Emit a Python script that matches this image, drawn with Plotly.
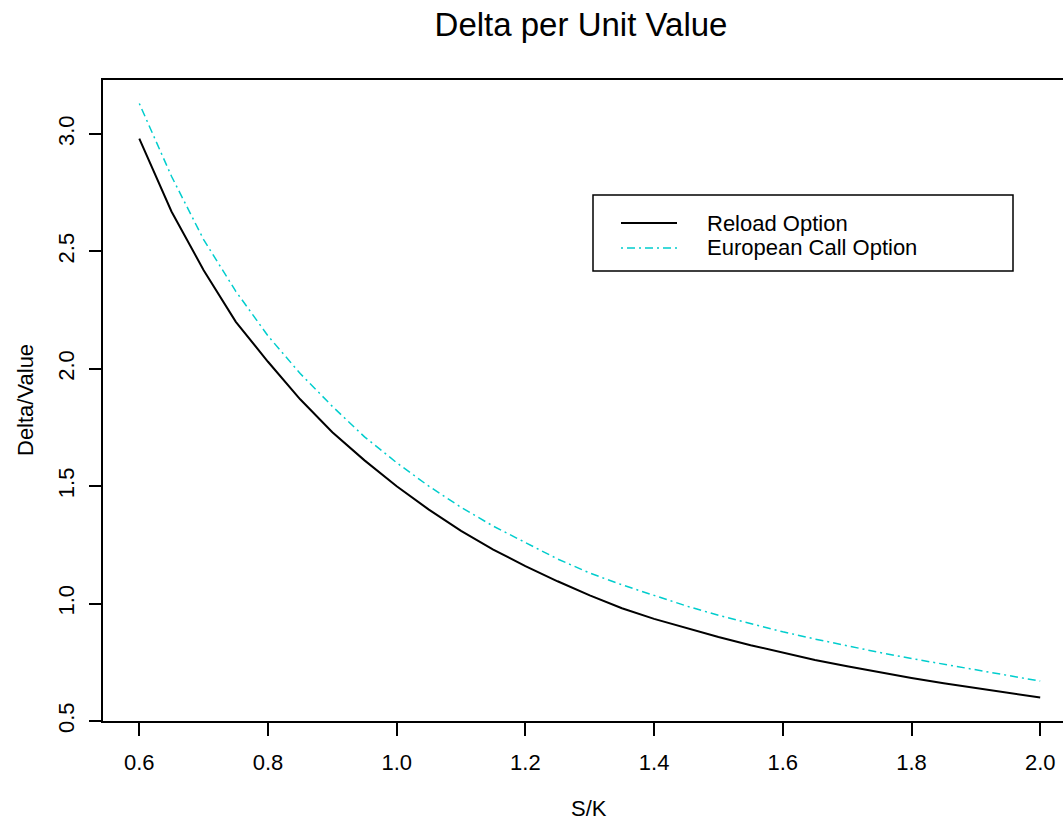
import plotly.graph_objects as go

# S/K grid and the two delta-per-unit-value curves
s_over_k = [0.60, 0.65, 0.70, 0.75, 0.80, 0.85, 0.90, 0.95, 1.00, 1.05,
            1.10, 1.15, 1.20, 1.25, 1.30, 1.35, 1.40, 1.45, 1.50, 1.55,
            1.60, 1.65, 1.70, 1.75, 1.80, 1.85, 1.90, 1.95, 2.00]
reload_option = [2.98, 2.67, 2.42, 2.20, 2.03, 1.87, 1.73, 1.61, 1.50, 1.40,
                 1.31, 1.23, 1.16, 1.095, 1.035, 0.98, 0.935, 0.895, 0.858, 0.823,
                 0.790, 0.760, 0.733, 0.707, 0.683, 0.661, 0.640, 0.620, 0.600]
european_call = [3.13, 2.82, 2.55, 2.33, 2.14, 1.98, 1.84, 1.71, 1.60, 1.50,
                 1.41, 1.33, 1.26, 1.19, 1.13, 1.08, 1.035, 0.99, 0.95, 0.914,
                 0.880, 0.849, 0.820, 0.792, 0.766, 0.741, 0.717, 0.694, 0.670]

x_ticks = [0.6, 0.8, 1.0, 1.2, 1.4, 1.6, 1.8, 2.0]
x_tick_text = ["0.6", "0.8", "1.0", "1.2", "1.4", "1.6", "1.8", "2.0"]
y_ticks = [0.5, 1.0, 1.5, 2.0, 2.5, 3.0]
y_tick_text = ["0.5", "1.0", "1.5", "2.0", "2.5", "3.0"]

series_names = ["Reload Option", "European Call Option"]

W, H = 1063, 820
ML, MT, MB, MR = 103, 80, 99, 0
FONT = "Liberation Sans, Arial, sans-serif"
CYAN = "#00CDCD"
DOTDASH = "2px,4px,8px,4px"

fig = go.Figure()
fig.add_trace(go.Scatter(x=s_over_k, y=reload_option, mode="lines",
                         name=series_names[0],
                         line=dict(color="black", width=2)))
fig.add_trace(go.Scatter(x=s_over_k, y=european_call, mode="lines",
                         name=series_names[1],
                         line=dict(color=CYAN, width=1.5, dash=DOTDASH)))

pw = W - ML - MR
ph = H - MT - MB

def px_x(p):
    return (p - ML) / pw

def px_y(p):
    return (H - MB - p) / ph

# legend box drawn by hand
lx0, lx1, ly0, ly1 = 593, 1013, 195, 271
fig.add_shape(type="rect", xref="paper", yref="paper",
              x0=px_x(lx0), x1=px_x(lx1), y0=px_y(ly1), y1=px_y(ly0),
              line=dict(color="black", width=1.5), fillcolor="white")
leg_rows = [223, 248]
leg_styles = [dict(color="black", width=2), dict(color=CYAN, width=1.5, dash=DOTDASH)]
for row, style, name in zip(leg_rows, leg_styles, series_names):
    fig.add_shape(type="line", xref="paper", yref="paper",
                  x0=px_x(621), x1=px_x(677), y0=px_y(row), y1=px_y(row),
                  line=style)
    fig.add_annotation(xref="paper", yref="paper", x=px_x(705), y=px_y(row),
                       text=name, showarrow=False, xanchor="left", yanchor="middle",
                       font=dict(family=FONT, size=22, color="black"))

# axis titles
fig.add_annotation(xref="paper", yref="paper", x=px_x(589), y=px_y(808),
                   text="S/K", showarrow=False, xanchor="center", yanchor="middle",
                   font=dict(family=FONT, size=22, color="black"))
fig.add_annotation(xref="paper", yref="paper", x=px_x(25.5), y=px_y(400.5),
                   text="Delta/Value", showarrow=False, textangle=-90,
                   xanchor="center", yanchor="middle",
                   font=dict(family=FONT, size=22, color="black"))

x_lo = 0.6 - 36.3 / 643.5
x_hi = x_lo + pw / 643.5
y_lo = 0.5
y_hi = 0.5 + ph / 234.8

fig.update_layout(
    width=W, height=H,
    margin=dict(l=ML, r=MR, t=MT, b=MB),
    paper_bgcolor="white", plot_bgcolor="white",
    showlegend=False,
    title=dict(text="Delta per Unit Value", x=581 / W, xref="container",
               xanchor="center", y=1 - 24 / H, yref="container", yanchor="middle",
               font=dict(family=FONT, size=33, color="black")),
    xaxis=dict(range=[x_lo, x_hi], tickvals=x_ticks, ticktext=x_tick_text,
               showgrid=False, zeroline=False, showline=True, linecolor="black",
               linewidth=2, mirror=True, ticks="outside", ticklen=13, tickwidth=2,
               tickcolor="black", ticklabelstandoff=8,
               tickfont=dict(family=FONT, size=22, color="black")),
    yaxis=dict(range=[y_lo, y_hi], tickvals=y_ticks, ticktext=y_tick_text,
               showgrid=False, zeroline=False, showline=True, linecolor="black",
               linewidth=2, ticks="outside", ticklen=12, tickwidth=2,
               tickcolor="black", tickangle=-90, ticklabelstandoff=6,
               tickfont=dict(family=FONT, size=22, color="black")),
)

fig.write_html("out.html")
